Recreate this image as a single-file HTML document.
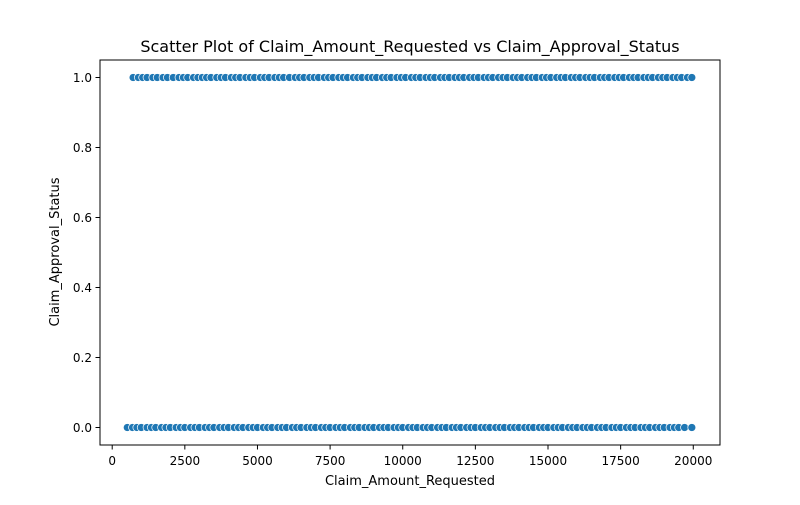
<!DOCTYPE html>
<html><head><meta charset="utf-8"><style>
body{margin:0;background:#fff;font-family:"Liberation Sans","DejaVu Sans",sans-serif}
svg text{font-family:"DejaVu Sans","Liberation Sans",sans-serif}
</style></head><body>
<svg id="c" width="800" height="500" xmlns="http://www.w3.org/2000/svg">
<rect width="800" height="500" fill="#fff"/>
<text x="410" y="52" text-anchor="middle" font-size="16">Scatter Plot of Claim_Amount_Requested vs Claim_Approval_Status</text>
<text x="410" y="485" text-anchor="middle" font-size="13">Claim_Amount_Requested</text>
<text transform="translate(59,252) rotate(-90)" text-anchor="middle" font-size="13">Claim_Approval_Status</text>
<g id="xt"></g><g id="yt"></g><g id="pts"></g>
<rect x="100" y="60" width="620" height="385" fill="none" stroke="#000" stroke-width="1"/>
</svg>
<script>
const approvedAmounts=[720,900,1050,1200,1400,1550,1750,1900,2100,2300,2450,2600,2800,2950,3100,3250,3400,3600,3750,3900,4100,4250,4400,4600,4750,4900,5100,5250,5400,5600,5750,5900,6100,6300,6450,6600,6800,6950,7100,7300,7450,7600,7800,7950,8100,8300,8450,8600,8800,8950,9100,9300,9450,9600,9800,9950,10100,10300,10450,10600,10800,10950,11100,11300,11450,11600,11800,11950,12100,12300,12450,12600,12800,12950,13100,13300,13450,13600,13800,13950,14100,14300,14450,14600,14800,14950,15100,15300,15450,15600,15800,15950,16100,16300,16450,16600,16800,16950,17100,17300,17450,17600,17800,17950,18100,18300,18450,18600,18800,18950,19100,19300,19450,19600,19800,19950];
const rejectedAmounts=[520,700,850,1000,1200,1350,1500,1700,1850,2000,2200,2350,2500,2700,2850,3000,3200,3350,3500,3700,3850,4000,4200,4350,4500,4700,4850,5000,5200,5350,5500,5700,5850,6000,6200,6350,6500,6700,6850,7000,7200,7350,7500,7700,7850,8000,8200,8350,8500,8700,8850,9000,9200,9350,9500,9700,9850,10000,10200,10350,10500,10700,10850,11000,11200,11350,11500,11700,11850,12000,12200,12350,12500,12700,12850,13000,13200,13350,13500,13700,13850,14000,14200,14350,14500,14700,14850,15000,15200,15350,15500,15700,15850,16000,16200,16350,16500,16700,16850,17000,17200,17350,17500,17700,17850,18000,18200,18350,18500,18700,18850,19000,19200,19350,19500,19700,19950];
const xTicks=[0,2500,5000,7500,10000,12500,15000,17500,20000];
const yTicks=[0.0,0.2,0.4,0.6,0.8,1.0];
const NS="http://www.w3.org/2000/svg";
const xs=v=>100+(v+420)/21340*620;
const ys=v=>445-(v+0.05)/1.1*385;
function mk(t,a,p){const e=document.createElementNS(NS,t);for(const k in a)e.setAttribute(k,a[k]);p.appendChild(e);return e;}
const xt=document.getElementById('xt'),yt=document.getElementById('yt'),pts=document.getElementById('pts');
xTicks.forEach(v=>{const x=xs(v);
 const l=mk('line',{x1:x,x2:x,y1:445,y2:449.5,stroke:'#000'},xt);
 
 
 const t=mk('text',{x:x,y:465,'text-anchor':'middle','font-size':'12'},xt);t.textContent=v;
 
 });
yTicks.forEach(v=>{const y=ys(v);
 const l=mk('line',{x1:95.5,x2:100,y1:y,y2:y,stroke:'#000'},yt);
 
 
 const t=mk('text',{x:92,y:y+4.5,'text-anchor':'end','font-size':'12'},yt);t.textContent=v.toFixed(1);
 
 });
[[approvedAmounts,1],[rejectedAmounts,0]].forEach(([arr,s])=>arr.forEach(v=>{
 const c=mk('circle',{cx:xs(v),cy:ys(s),r:4,fill:'#1f77b4',stroke:'#fff','stroke-width':0.7},pts);
 
 }));
</script>
</body></html>
